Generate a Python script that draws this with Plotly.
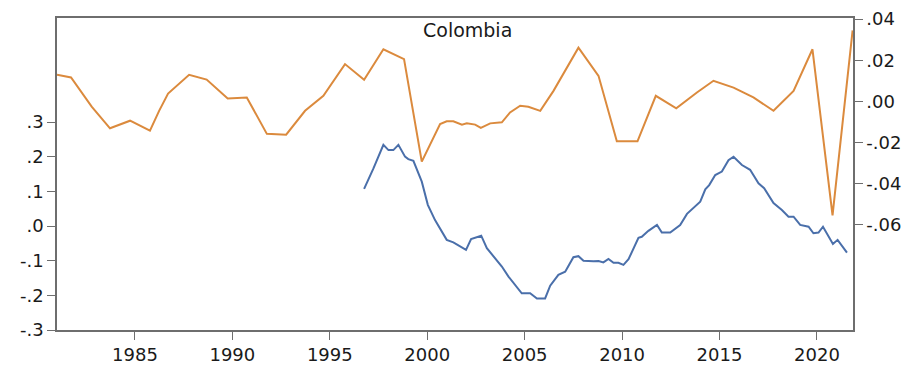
import plotly.graph_objects as go

# Orange series (right axis)
orange_t = [1981.0, 1981.72, 1982.78, 1983.72, 1984.75, 1985.77, 1986.24, 1986.7, 1987.78,
            1988.68, 1989.76, 1990.74, 1991.77, 1992.76, 1993.73, 1994.67, 1995.78, 1996.76,
            1997.75, 1998.81, 1999.72, 2000.66, 2001.0, 2001.34, 2001.78, 2002.03, 2002.46,
            2002.75, 2003.23, 2003.83, 2004.25, 2004.77, 2005.19, 2005.8, 2006.48, 2007.76,
            2008.79, 2009.73, 2010.79, 2011.73, 2012.78, 2013.84, 2014.69, 2015.72, 2016.74,
            2017.77, 2018.8, 2019.77, 2020.8, 2021.83]
orange_v = [0.0129, 0.0116, -0.0026, -0.0131, -0.0094, -0.0142, -0.0046, 0.0038, 0.0129,
            0.0106, 0.0014, 0.0019, -0.0158, -0.0162, -0.0046, 0.0027, 0.0181, 0.0105,
            0.0253, 0.0205, -0.0293, -0.0110, -0.0097, -0.0097, -0.0113, -0.0107, -0.0113,
            -0.0129, -0.0107, -0.0102, -0.0054, -0.0021, -0.0026, -0.0046, 0.0051, 0.0261,
            0.0124, -0.0194, -0.0194, 0.0027, -0.0034, 0.0043, 0.0100, 0.0067, 0.0019,
            -0.0046, 0.0051, 0.0253, -0.0554, 0.0345]

# Blue series (left axis)
blue_t = [1996.76, 1997.24, 1997.75, 1998.01, 1998.26, 1998.52, 1998.86, 1999.03, 1999.29,
          1999.72, 2000.03, 2000.40, 2001.0, 2001.34, 2001.99, 2002.25, 2002.77, 2003.06,
          2003.83, 2004.17, 2004.85, 2005.28, 2005.63, 2006.05, 2006.31, 2006.73, 2007.08,
          2007.50, 2007.76, 2008.02, 2008.53, 2008.79, 2009.04, 2009.30, 2009.56, 2009.81,
          2010.07, 2010.33, 2010.84, 2011.01, 2011.35, 2011.79, 2012.04, 2012.47, 2012.98,
          2013.33, 2014.01, 2014.27, 2014.47, 2014.78, 2015.12, 2015.46, 2015.72, 2016.15,
          2016.57, 2017.0, 2017.29, 2017.77, 2018.2, 2018.54, 2018.80, 2019.14, 2019.57,
          2019.82, 2020.08, 2020.31, 2020.82, 2021.06, 2021.54]
blue_v = [0.107, 0.166, 0.234, 0.219, 0.219, 0.234, 0.200, 0.193, 0.188,
          0.128, 0.061, 0.017, -0.040, -0.047, -0.069, -0.038, -0.028, -0.064,
          -0.117, -0.146, -0.194, -0.194, -0.209, -0.209, -0.172, -0.141, -0.132,
          -0.090, -0.087, -0.100, -0.102, -0.101, -0.105, -0.095, -0.106, -0.106,
          -0.112, -0.096, -0.034, -0.031, -0.014, 0.003, -0.019, -0.019, 0.003,
          0.035, 0.070, 0.106, 0.118, 0.147, 0.157, 0.190, 0.200, 0.176,
          0.162, 0.123, 0.109, 0.066, 0.046, 0.027, 0.027, 0.003, -0.002,
          -0.021, -0.019, -0.002, -0.052, -0.040, -0.077]

x_ticks = [1985, 1990, 1995, 2000, 2005, 2010, 2015, 2020]
left_ticks = [0.3, 0.2, 0.1, 0.0, -0.1, -0.2, -0.3]
left_labels = [".3", ".2", ".1", ".0", "-.1", "-.2", "-.3"]
right_ticks = [0.04, 0.02, 0.0, -0.02, -0.04, -0.06]
right_labels = [".04", ".02", ".00", "-.02", "-.04", "-.06"]

FONT = "DejaVu Sans"
AX = "#6e6e6e"

fig = go.Figure()
fig.add_trace(go.Scatter(x=orange_t, y=orange_v, mode="lines", yaxis="y2",
                         line=dict(color="#DB8A3D", width=2), showlegend=False))
fig.add_trace(go.Scatter(x=blue_t, y=blue_v, mode="lines", yaxis="y",
                         line=dict(color="#4A6FAA", width=2), showlegend=False))

fig.update_layout(
    width=910, height=366,
    margin=dict(l=57, r=57, t=18, b=36),
    paper_bgcolor="white", plot_bgcolor="white",
    font=dict(family=FONT, size=18, color="#1a1a1a"),
    xaxis=dict(range=[1981.0, 2021.85], tickvals=x_ticks, ticks="outside", ticklen=8,
               tickcolor=AX, showline=True, linecolor=AX, linewidth=1.5, mirror=True,
               showgrid=False, zeroline=False, automargin=False),
    yaxis=dict(range=[-0.3, 0.6], tickvals=left_ticks, ticktext=left_labels,
               ticks="outside", ticklen=8, tickcolor=AX, showline=True, linecolor=AX,
               linewidth=1.5, showgrid=False, zeroline=False, automargin=False),
    yaxis2=dict(range=[-0.1111, 0.0405], tickvals=right_ticks, ticktext=right_labels,
                overlaying="y", side="right", ticks="outside", ticklen=8, tickcolor=AX,
                showline=True, linecolor=AX, linewidth=1.5, showgrid=False, zeroline=False,
                automargin=False),
    annotations=[dict(text="Colombia", xref="paper", yref="paper", x=0.516, y=0.96,
                      xanchor="center", yanchor="middle", showarrow=False,
                      font=dict(family=FONT, size=19, color="#1a1a1a"))],
)

fig.write_html("out.html")
